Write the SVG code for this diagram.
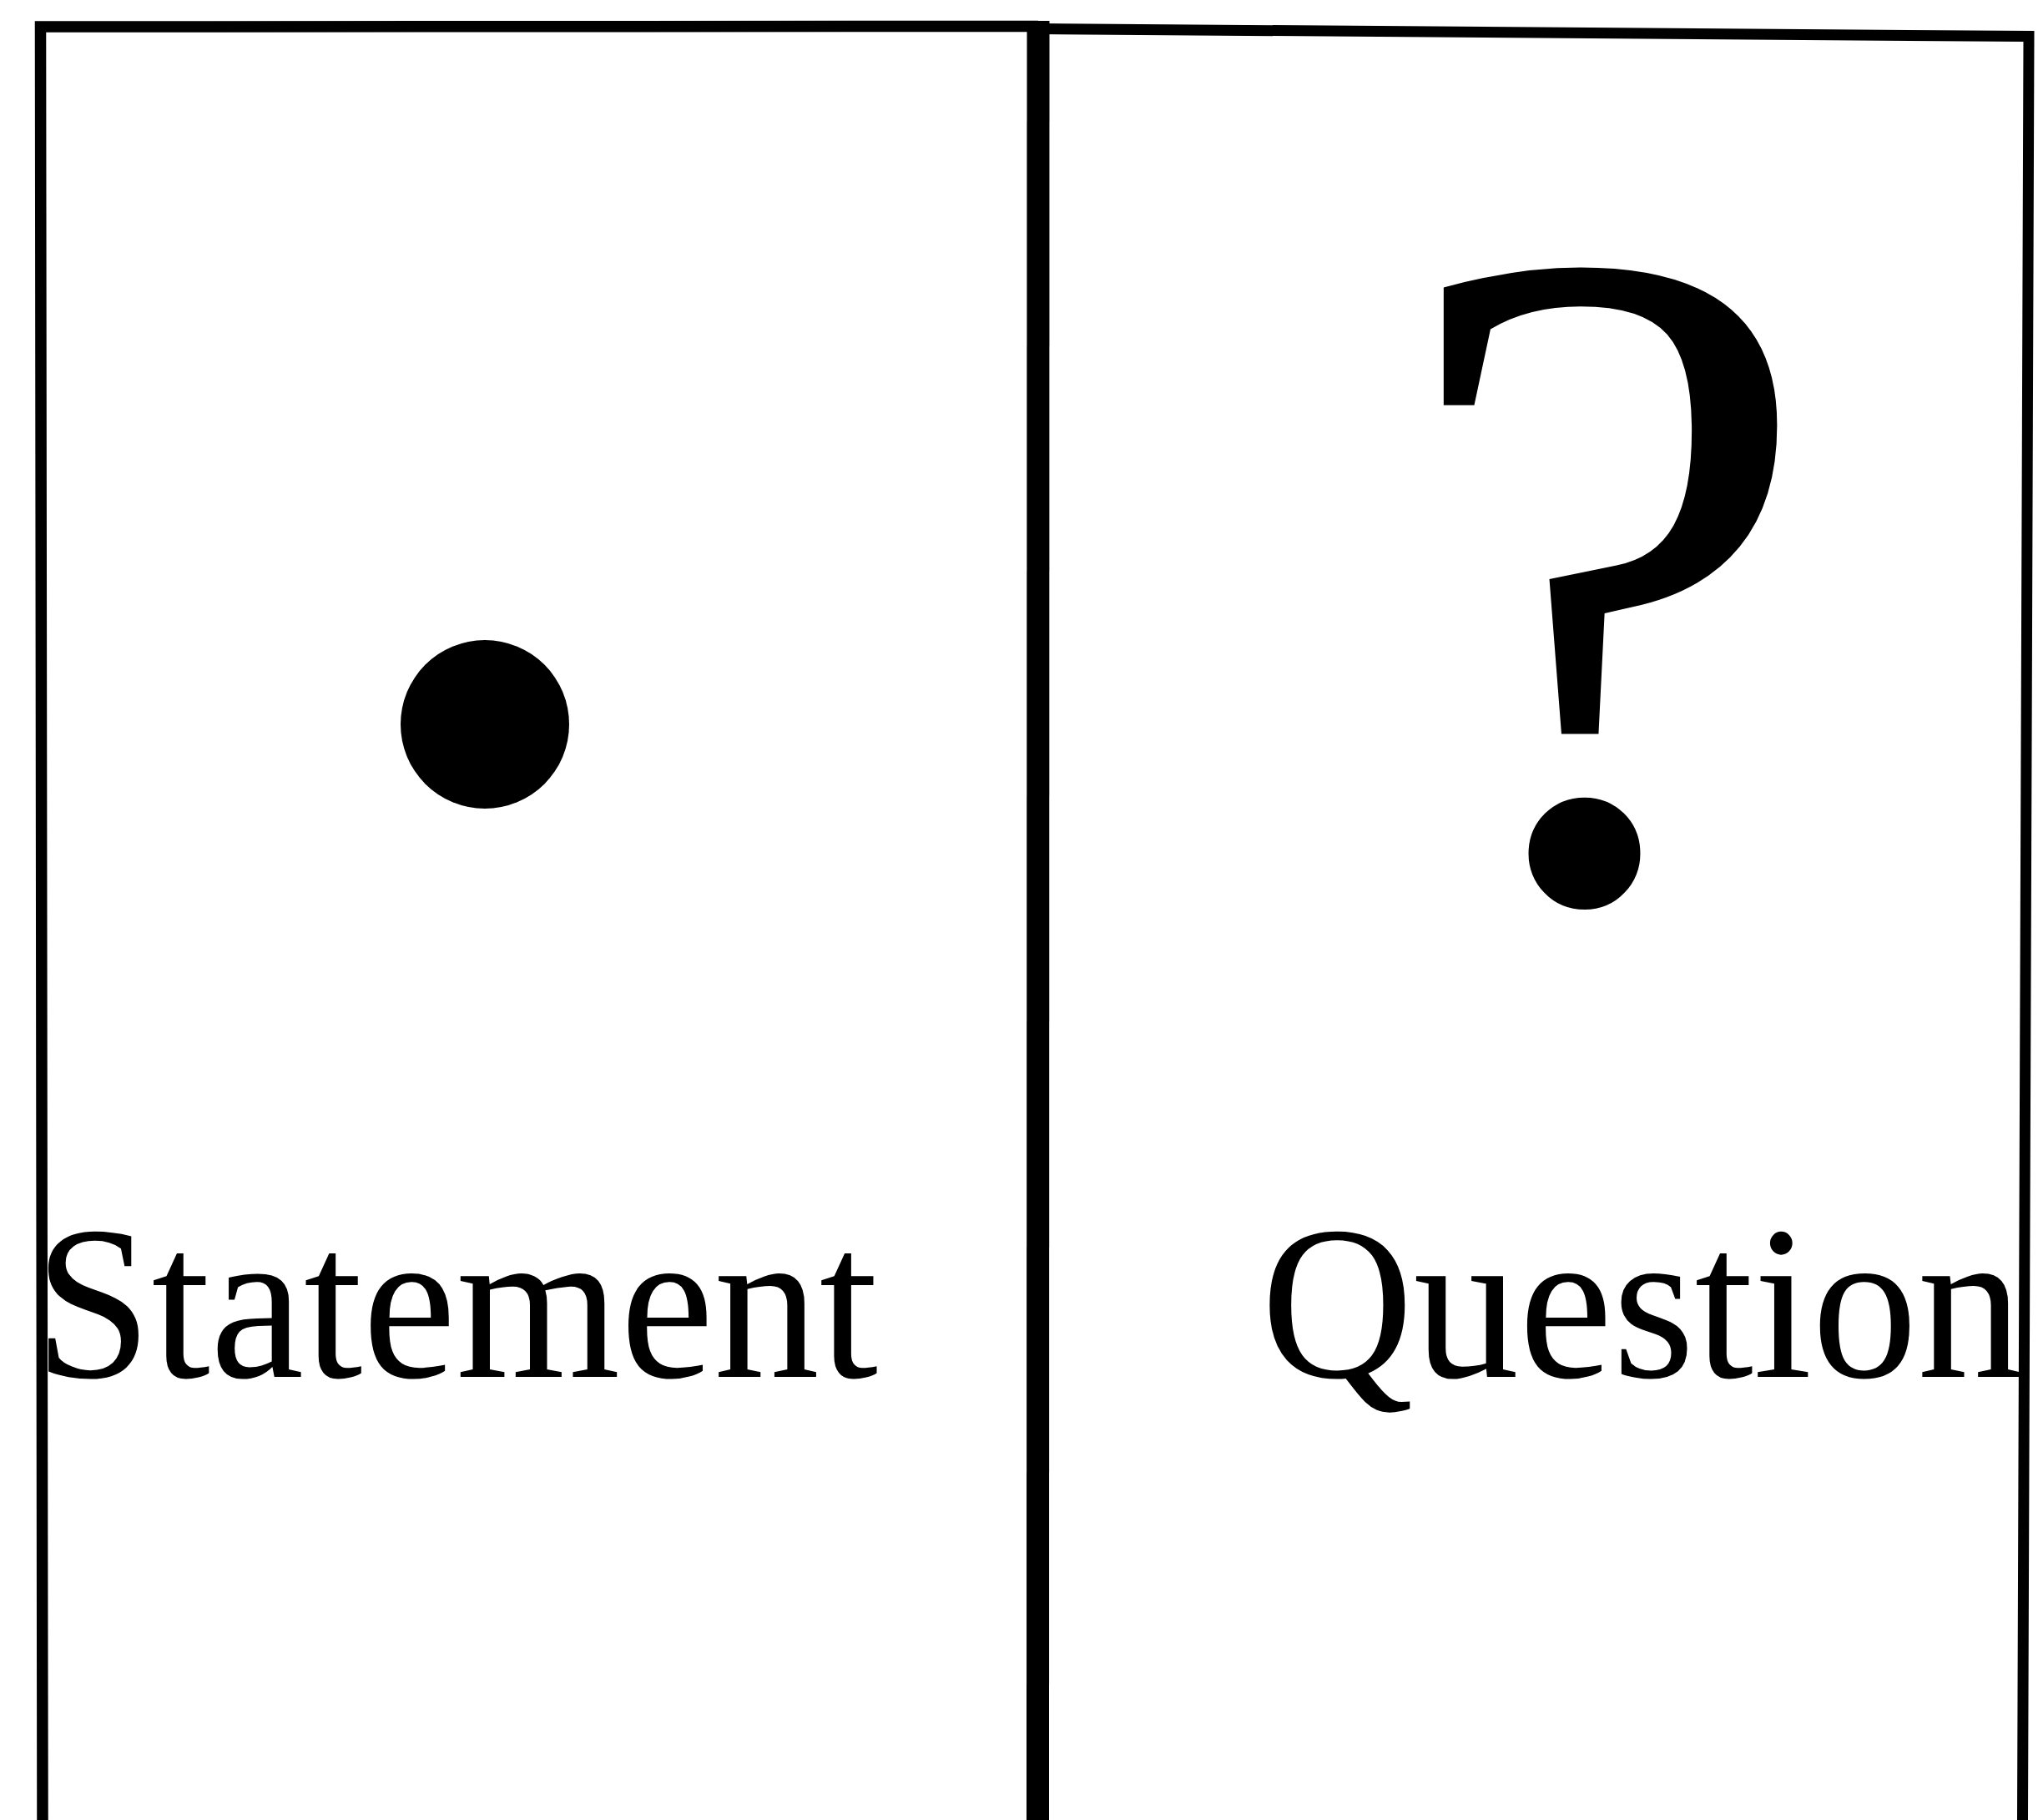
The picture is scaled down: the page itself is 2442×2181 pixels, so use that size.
<svg xmlns="http://www.w3.org/2000/svg" width="2442" height="2181" viewBox="0 0 2442 2181">
<style>
.frame{fill:none;stroke:#000;stroke-linejoin:miter;stroke-linecap:butt}
text{font-family:'Liberation Serif','Times New Roman',Times,serif;fill:#000}
</style>
<rect x="0" y="0" width="2442" height="2181" fill="#fff"/>
<g id="connectors">
<path class="frame" stroke-width="27" d="M1244,25 L1243.5,2181"/>
</g>
<g id="statement-panel">
<path class="frame" stroke-width="13.5" d="M51,2181 L48.5,32 L1244,31.5"/>
<circle cx="581" cy="868" r="101" fill="#000"/>
<text x="41" y="1650" font-size="263" textLength="1011" lengthAdjust="spacingAndGlyphs">Statement</text>
</g>
<g id="question-panel">
<path class="frame" stroke-width="13" d="M1244,34.5 L2431,43.5 L2423.5,2181"/>
<text x="1923.5" y="1074" font-size="1138" text-anchor="middle">?</text>
<text x="1511" y="1650" font-size="263" textLength="913" lengthAdjust="spacingAndGlyphs">Question</text>
</g>
</svg>
